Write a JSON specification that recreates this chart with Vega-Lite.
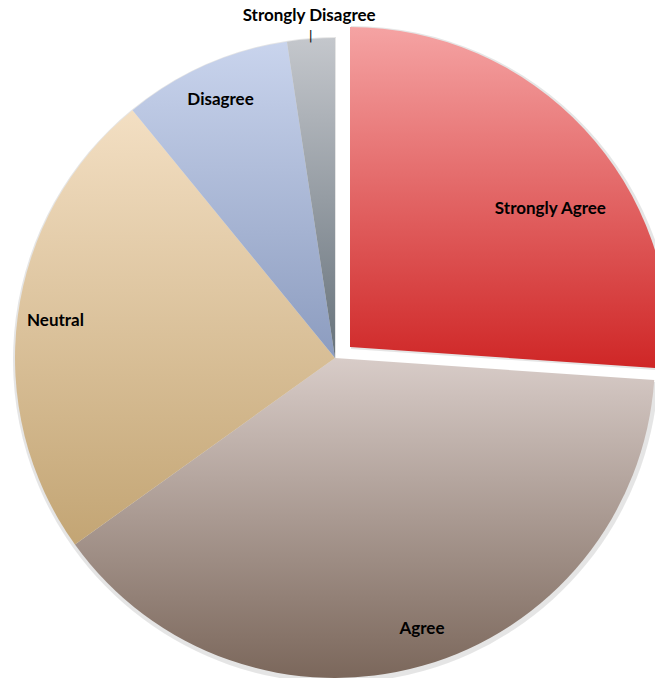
{
  "$schema": "https://vega.github.io/schema/vega-lite/v6.json",
  "width": 640,
  "height": 640,
  "padding": {"left": 15, "top": 38, "right": 0, "bottom": 0},
  "autosize": {"type": "none"},
  "background": "white",
  "config": {"view": {"stroke": null}},
  "data": {
    "values": [
      {"category": "Strongly Agree", "value": 26.1, "order": 1},
      {"category": "Agree", "value": 39.0, "order": 2},
      {"category": "Neutral", "value": 24.0, "order": 3},
      {"category": "Disagree", "value": 8.5, "order": 4},
      {"category": "Strongly Disagree", "value": 2.4, "order": 5}
    ]
  },
  "transform": [
    {"stack": "value", "groupby": [], "sort": [{"field": "order", "order": "ascending"}], "as": ["v0", "v1"]}
  ],
  "layer": [
    {
      "transform": [{"filter": "datum.category !== 'Strongly Agree'"}],
      "mark": {"type": "arc", "color": "#000", "opacity": 0.1, "outerRadius": 323, "xOffset": 1, "yOffset": 2},
      "encoding": {"theta": {"field": "v0", "type": "quantitative", "scale": {"domain": [0, 100]}}, "theta2": {"field": "v1"}}
    },
    {
      "transform": [{"filter": "datum.category === 'Strongly Agree'"}],
      "mark": {"type": "arc", "color": "#000", "opacity": 0.1, "outerRadius": 323, "xOffset": 16, "yOffset": -9},
      "encoding": {"theta": {"field": "v0", "type": "quantitative", "scale": {"domain": [0, 100]}}, "theta2": {"field": "v1"}}
    },
    {
      "transform": [{"filter": "datum.category === 'Agree'"}],
      "mark": {"type": "arc", "color": {"gradient": "linear", "x1": 0, "y1": 0, "x2": 0, "y2": 1, "stops": [{"offset": 0, "color": "#d8ccc8"}, {"offset": 1, "color": "#7b675b"}]}},
      "encoding": {"theta": {"field": "v0", "type": "quantitative", "scale": {"domain": [0, 100]}}, "theta2": {"field": "v1"}}
    },
    {
      "transform": [{"filter": "datum.category === 'Neutral'"}],
      "mark": {"type": "arc", "color": {"gradient": "linear", "x1": 0, "y1": 0, "x2": 0, "y2": 1, "stops": [{"offset": 0, "color": "#f3dfc3"}, {"offset": 1, "color": "#c3a574"}]}},
      "encoding": {"theta": {"field": "v0", "type": "quantitative", "scale": {"domain": [0, 100]}}, "theta2": {"field": "v1"}}
    },
    {
      "transform": [{"filter": "datum.category === 'Disagree'"}],
      "mark": {"type": "arc", "color": {"gradient": "linear", "x1": 0, "y1": 0, "x2": 0, "y2": 1, "stops": [{"offset": 0, "color": "#c9d4ed"}, {"offset": 1, "color": "#8c9cbf"}]}},
      "encoding": {"theta": {"field": "v0", "type": "quantitative", "scale": {"domain": [0, 100]}}, "theta2": {"field": "v1"}}
    },
    {
      "transform": [{"filter": "datum.category === 'Strongly Disagree'"}],
      "mark": {"type": "arc", "color": {"gradient": "linear", "x1": 0, "y1": 0, "x2": 0, "y2": 1, "stops": [{"offset": 0, "color": "#c4c7cc"}, {"offset": 1, "color": "#67727b"}]}},
      "encoding": {"theta": {"field": "v0", "type": "quantitative", "scale": {"domain": [0, 100]}}, "theta2": {"field": "v1"}}
    },
    {
      "transform": [{"filter": "datum.category === 'Strongly Agree'"}],
      "mark": {"type": "arc", "xOffset": 15, "yOffset": -11, "color": {"gradient": "linear", "x1": 0, "y1": 0, "x2": 0, "y2": 1, "stops": [{"offset": 0, "color": "#f5a3a3"}, {"offset": 1, "color": "#cf2626"}]}},
      "encoding": {"theta": {"field": "v0", "type": "quantitative", "scale": {"domain": [0, 100]}}, "theta2": {"field": "v1"}}
    },
    {
      "mark": {"type": "text", "font": "Lato", "fontWeight": "bold", "fontSize": 17, "color": "#000", "radius": 244, "xOffset": 15, "yOffset": -11, "dx": 22, "dy": 28},
      "encoding": {
        "theta": {"field": "value", "type": "quantitative", "stack": true},
        "order": {"field": "order", "type": "quantitative"},
        "text": {"condition": {"test": "datum.category === 'Strongly Agree'", "field": "category"}, "value": ""}
      }
    },
    {
      "mark": {"type": "text", "font": "Lato", "fontWeight": "bold", "fontSize": 17, "color": "#000", "radius": 282, "dx": 10},
      "encoding": {
        "theta": {"field": "value", "type": "quantitative", "stack": true},
        "order": {"field": "order", "type": "quantitative"},
        "text": {"condition": {"test": "datum.category === 'Agree'", "field": "category"}, "value": ""}
      }
    },
    {
      "mark": {"type": "text", "font": "Lato", "fontWeight": "bold", "fontSize": 17, "color": "#000", "radius": 282},
      "encoding": {
        "theta": {"field": "value", "type": "quantitative", "stack": true},
        "order": {"field": "order", "type": "quantitative"},
        "text": {"condition": {"test": "datum.category === 'Neutral' || datum.category === 'Disagree'", "field": "category"}, "value": ""}
      }
    },
    {
      "mark": {"type": "text", "font": "Lato", "fontWeight": "bold", "fontSize": 17, "color": "#000", "radius": 343},
      "encoding": {
        "theta": {"field": "value", "type": "quantitative", "stack": true},
        "order": {"field": "order", "type": "quantitative"},
        "text": {"condition": {"test": "datum.category === 'Strongly Disagree'", "field": "category"}, "value": ""}
      }
    },
    {
      "mark": {"type": "text", "font": "DejaVu Sans", "fontSize": 13, "color": "#111", "radius": 323},
      "encoding": {
        "theta": {"field": "value", "type": "quantitative", "stack": true},
        "order": {"field": "order", "type": "quantitative"},
        "text": {"condition": {"test": "datum.category === 'Strongly Disagree'", "value": "|"}, "value": ""}
      }
    }
  ]
}
